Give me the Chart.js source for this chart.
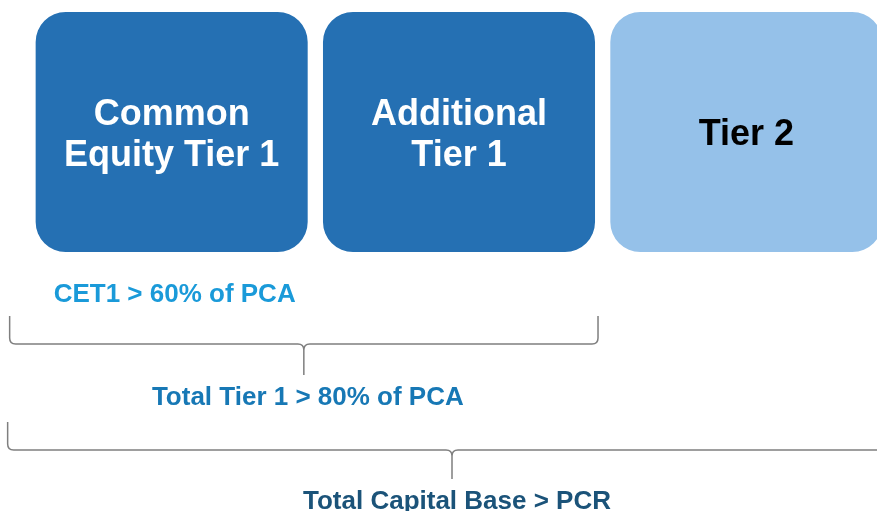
<!DOCTYPE html>
<html>
<head>
<meta charset="utf-8">
<script src="https://cdn.jsdelivr.net/npm/chart.js@4"></script>
<style>
  html, body { margin: 0; padding: 0; background: #fff; overflow: hidden; }
  #wrap { width: 877px; height: 511px; overflow: hidden; }
</style>
</head>
<body>
<div id="wrap"><canvas id="capitalChart" width="890" height="511"></canvas></div>
<script>
// capital components, one box each
const categories = ['Common Equity Tier 1', 'Additional Tier 1', 'Tier 2'];
const boxLines = [['Common', 'Equity Tier 1'], ['Additional', 'Tier 1'], ['Tier 2']];
const boxRanges = [[0, 1], [0, 1], [0, 1]];

// requirement notes and the boxes each brace groups
const noteLabels = ['CET1 > 60% of PCA', 'Total Tier 1 > 80% of PCA', 'Total Capital Base > PCR'];
const braceSpans = [[0, 1], [0, 2]];

const boxColors = ['#2570b3', '#2570b3', '#95c1e9'];
const textColors = ['#ffffff', '#ffffff', '#000000'];
const noteColors = ['#1a9ad9', '#1778b5', '#1b5379'];

const font = '"Liberation Sans", Arial, sans-serif';

function drawBrace(ctx, x0, x1, top, line, tipY) {
    const r = 6;
    const tip = (x0 + x1) / 2;
    ctx.beginPath();
    ctx.moveTo(x0, top);
    ctx.lineTo(x0, line - r);
    ctx.quadraticCurveTo(x0, line, x0 + r, line);
    ctx.lineTo(tip - r, line);
    ctx.quadraticCurveTo(tip, line, tip, line + r);
    ctx.lineTo(tip, tipY);
    ctx.moveTo(tip, line + r);
    ctx.quadraticCurveTo(tip, line, tip + r, line);
    ctx.lineTo(x1 - r, line);
    ctx.quadraticCurveTo(x1, line, x1, line - r);
    ctx.lineTo(x1, top);
    ctx.stroke();
    return tip;
}

const overlay = {
    id: 'overlay',
    afterDatasetsDraw(chart) {
        const ctx = chart.ctx;
        const bars = chart.getDatasetMeta(0).data;
        const yScale = chart.scales.y;
        const base = yScale.getPixelForValue(0);
        const mid = yScale.getPixelForValue(0.5);

        ctx.save();
        ctx.textAlign = 'center';
        ctx.textBaseline = 'alphabetic';
        ctx.font = 'bold 36px ' + font;
        bars.forEach((bar, i) => {
            const lines = boxLines[i];
            const lh = 41;
            const start = mid + 13 - (lines.length - 1) * lh / 2;
            ctx.fillStyle = textColors[i];
            lines.forEach((t, j) => ctx.fillText(t, bar.x, start + j * lh));
        });

        const left = i => bars[i].x - bars[i].width / 2;
        const right = i => bars[i].x + bars[i].width / 2;

        ctx.font = 'bold 26px ' + font;
        ctx.fillStyle = noteColors[0];
        ctx.fillText(noteLabels[0], bars[0].x + 3, base + 50);

        ctx.strokeStyle = '#7f7f7f';
        ctx.lineWidth = 1.5;
        const tip1 = drawBrace(ctx, left(braceSpans[0][0]) - 26, right(braceSpans[0][1]) + 3,
            base + 64, base + 92, base + 123);
        const tip2 = drawBrace(ctx, left(braceSpans[1][0]) - 28, right(braceSpans[1][1]) + 14,
            base + 170, base + 198, base + 227);

        ctx.fillStyle = noteColors[1];
        ctx.fillText(noteLabels[1], tip1 + 4, base + 153);
        ctx.fillStyle = noteColors[2];
        ctx.fillText(noteLabels[2], tip2 + 5, base + 257);
        ctx.restore();
    }
};

new Chart(document.getElementById('capitalChart'), {
    type: 'bar',
    data: {
        labels: categories,
        datasets: [{
            data: boxRanges,
            backgroundColor: boxColors,
            borderRadius: 30,
            borderSkipped: false,
            barPercentage: 272 / 287.3,
            categoryPercentage: 1
        }]
    },
    options: {
        responsive: false,
        animation: false,
        layout: { padding: { left: 28, right: 0, top: 0, bottom: 0 } },
        scales: {
            x: { display: false },
            y: { display: false, min: -1.079, max: 1.05 }
        },
        plugins: {
            legend: { display: false },
            tooltip: { enabled: false }
        }
    },
    plugins: [overlay]
});
</script>
</body>
</html>
